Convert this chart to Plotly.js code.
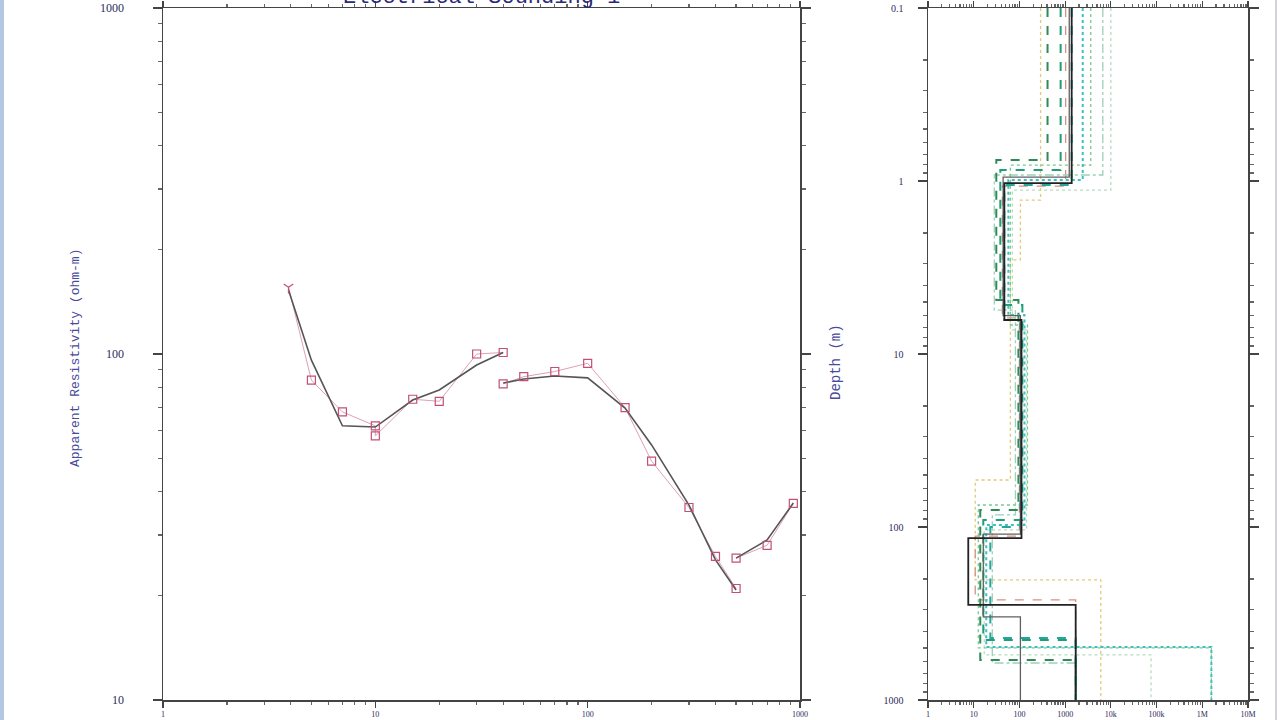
<!DOCTYPE html>
<html>
<head>
<meta charset="utf-8">
<script src="https://cdn.plot.ly/plotly-3.0.1.min.js"></script>
<style>html,body{margin:0;padding:0;background:#fff;}#chart{width:1280px;height:720px;}</style>
</head>
<body>
<div id="chart"></div>
<script>
// ---------- Sounding curve (left panel) ----------
const seg1AB      = [3.9, 5.0, 7.0, 10, 10, 15, 20, 30, 40];
const seg1RhoObs  = [156, 84, 68, 62, 58, 74, 73, 100, 101];
const seg1RhoCalc = [153, 96, 62, 61.5, 61.5, 73.6, 78.7, 92.9, 101];

const seg2AB      = [40, 50, 70, 100, 150, 200, 300, 400, 500];
const seg2RhoObs  = [82, 86, 89, 94, 70, 49, 36, 26, 21];
const seg2RhoCalc = [82.4, 84.7, 86.4, 85.3, 69.8, 54.6, 36.6, 25.4, 20.8];

const seg3AB      = [500, 700, 930];
const seg3RhoObs  = [25.7, 28, 37];
const seg3RhoCalc = [25.7, 29.0, 37.1];

// ---------- Layered models (right panel) ----------
// resistivity of each layer (ohm-m) and depth of each interface (m)
const bestRho   = [1390, 46.8, 111, 7.6, 1700];
const bestDepth = [1.03, 6.36, 116, 282];
const altRho    = [1230, 44, 105, 16.2, 105];
const altDepth  = [0.95, 6.0, 110, 331];

const eqRho = [
  [290, 105, 63.4, 10.8, 6030],
  [1026, 42.3, 100, 10.8, 1702],
  [10000, 70.2, 143, 17.0, 75700],
  [6670, 28.2, 81.7, 25.5, 1702],
  [3630, 63.4, 150, 12.6, 1580000],
  [412, 31.2, 95.1, 13.9, 1702],
  [797, 38.2, 116, 16.2, 1702],
  [2425, 57.3, 129, 18.8, 1580000],
  [1390, 46.8, 105, 23.1, 1702]
];
const eqDepth = [
  [1.29, 2.86, 53.5, 202],
  [1.07, 6.19, 113, 264],
  [1.13, 7.26, 104, 549],
  [0.923, 5.57, 85.2, 611],
  [0.809, 6.80, 74.6, 500],
  [0.757, 4.87, 79.7, 587],
  [0.864, 5.21, 91.1, 450],
  [0.987, 5.95, 97.3, 494],
  [1.055, 6.36, 100, 438]
];
const eqColors = ['#e2c878', '#d89080', '#b8dcc0', '#9fd0b8', '#7cc88f', '#2e8b57', '#1f9e7a', '#3cc0c0', '#26a69a'];
const eqDash   = ['dot', 'dash', 'dot', 'dashdot', 'dot', 'dash', 'dash', 'dot', 'dash'];

const depthTop = 0.1, depthBottom = 1000;

function stepModel(rho, depth) {
  const xs = [], ys = [];
  const bounds = [depthTop].concat(depth).concat([depthBottom]);
  for (let i = 0; i < rho.length; i++) {
    xs.push(rho[i], rho[i]);
    ys.push(bounds[i], bounds[i + 1]);
  }
  return {x: xs, y: ys};
}

const markColor = '#c0507a';
const traces = [];

function addSegment(ab, obs, calc, firstSymbol) {
  traces.push({x: ab, y: obs, type: 'scatter', mode: 'lines', xaxis: 'x', yaxis: 'y',
    line: {color: '#e0a0b4', width: 1}, hoverinfo: 'skip'});
  traces.push({x: ab, y: calc, type: 'scatter', mode: 'lines', xaxis: 'x', yaxis: 'y',
    line: {color: '#555555', width: 1.6}});
  const syms = ab.map((v, i) => (i === 0 && firstSymbol) ? firstSymbol : 'square-open');
  traces.push({x: ab, y: obs, type: 'scatter', mode: 'markers', xaxis: 'x', yaxis: 'y',
    marker: {symbol: syms, size: 8, color: markColor, line: {color: markColor, width: 1.2}}});
}
addSegment(seg1AB, seg1RhoObs, seg1RhoCalc, 'y-down-open');
addSegment(seg2AB, seg2RhoObs, seg2RhoCalc, null);
addSegment(seg3AB, seg3RhoObs, seg3RhoCalc, null);

for (let k = 0; k < eqRho.length; k++) {
  const s = stepModel(eqRho[k], eqDepth[k]);
  traces.push({x: s.x, y: s.y, type: 'scatter', mode: 'lines', xaxis: 'x2', yaxis: 'y2',
    line: {color: eqColors[k], width: k >= 5 ? 2 : 1.3, dash: eqDash[k]}});
}
{
  const s = stepModel(altRho, altDepth);
  traces.push({x: s.x, y: s.y, type: 'scatter', mode: 'lines', xaxis: 'x2', yaxis: 'y2',
    line: {color: '#606060', width: 1.3}});
  const b = stepModel(bestRho, bestDepth);
  traces.push({x: b.x, y: b.y, type: 'scatter', mode: 'lines', xaxis: 'x2', yaxis: 'y2',
    line: {color: '#222222', width: 1.8}});
}

const axisCommon = {
  type: 'log', showline: true, mirror: 'ticks', linecolor: '#444', linewidth: 1.5,
  ticks: 'outside', ticklen: 6, tickcolor: '#444', tickwidth: 1.2, dtick: 1,
  showgrid: false, zeroline: false,
  minor: {ticks: 'outside', ticklen: 3, dtick: 'D1', tickcolor: '#666', showgrid: false},
  tickfont: {family: 'Liberation Serif', size: 8, color: '#2b2b5a'}
};
const yTop = 1 - 8 / 720, yBot = 1 - 700 / 720;

const layout = {
  width: 1280, height: 720,
  margin: {l: 0, r: 0, t: 0, b: 0},
  paper_bgcolor: '#ffffff', plot_bgcolor: '#ffffff',
  showlegend: false,
  xaxis: Object.assign({}, axisCommon, {range: [0, 3], domain: [163 / 1280, 800 / 1280], anchor: 'y'}),
  yaxis: Object.assign({}, axisCommon, {range: [1, 3], domain: [yBot, yTop], anchor: 'x',
    ticklen: 9, minor: {ticks: 'outside', ticklen: 4, dtick: 'D1', tickcolor: '#666', showgrid: false},
    ticklabelstandoff: 26, tickfont: {family: 'Liberation Serif', size: 12, color: '#2b2b5a'}}),
  xaxis2: Object.assign({}, axisCommon, {range: [0, 7], domain: [928 / 1280, 1248 / 1280], anchor: 'y2'}),
  yaxis2: Object.assign({}, axisCommon, {range: [3, -1], domain: [yBot, yTop], anchor: 'x2',
    ticklen: 9, minor: {ticks: 'outside', ticklen: 4, dtick: 'D1', tickcolor: '#666', showgrid: false},
    ticklabelstandoff: 12, tickfont: {family: 'Liberation Serif', size: 10, color: '#2b2b5a'}}),
  annotations: [
    {text: 'Electrical Sounding 1', xref: 'paper', yref: 'paper', x: 481 / 1280, y: 1,
      xanchor: 'center', yanchor: 'bottom', yshift: -12, showarrow: false,
      font: {family: 'Liberation Mono', size: 22, color: '#2a2a78'}},
    {text: 'Apparent Resistivity (ohm-m)', xref: 'paper', yref: 'paper', x: 75 / 1280, y: 1 - 358 / 720,
      textangle: -90, showarrow: false, xanchor: 'center', yanchor: 'middle',
      font: {family: 'Liberation Mono', size: 13, color: '#4a4a9a'}},
    {text: 'Depth (m)', xref: 'paper', yref: 'paper', x: 836 / 1280, y: 1 - 362 / 720,
      textangle: -90, showarrow: false, xanchor: 'center', yanchor: 'middle',
      font: {family: 'Liberation Mono', size: 14, color: '#4a4a9a'}}
  ],
  shapes: [
    {type: 'rect', xref: 'paper', yref: 'paper', x0: 0, x1: 4 / 1280, y0: 0, y1: 1,
      fillcolor: '#b4c8e4', line: {width: 0}, layer: 'below'},
    {type: 'line', xref: 'paper', yref: 'paper', x0: 1276 / 1280, x1: 1276 / 1280, y0: 0, y1: 1,
      line: {color: '#d0d4da', width: 2}, layer: 'below'}
  ]
};

Plotly.newPlot('chart', traces, layout, {displayModeBar: false, staticPlot: true});
</script>
</body>
</html>
